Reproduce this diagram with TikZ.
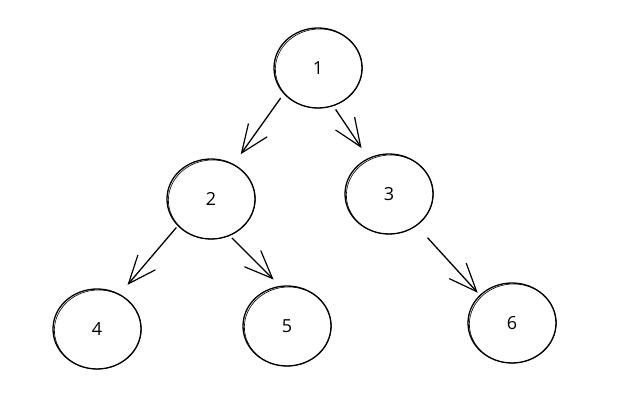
\documentclass[tikz,border=0pt]{standalone}
\usepackage{fontspec}
\setmainfont{Open Sans}
\usepackage{tikz}
\usetikzlibrary{arrows.meta,positioning,shapes.geometric}

\begin{document}
\begin{tikzpicture}[
    on grid,
    vertex/.style={ellipse, draw, line width=1.3pt, inner sep=0pt,
        minimum width=88pt, minimum height=80pt,
        font=\fontsize{18}{21}\selectfont},
    sketch/.style={line width=0.6pt},
    edge/.style={-{Straight Barb[length=28pt,width=23pt,line width=1.2pt]}, line width=1.3pt}
]
    \useasboundingbox (0pt,0pt) rectangle (619pt,-401pt);

    \node[vertex] (n1) at (318pt,-68pt) {1};
    \node[vertex, below left=131pt and 107pt of n1] (n2) {2};
    \node[vertex, below right=126pt and 71pt of n1] (n3) {3};
    \node[vertex, below left=130pt and 114pt of n2] (n4) {4};
    \node[vertex, below right=127pt and 76pt of n2] (n5) {5};
    \node[vertex, below right=129pt and 123pt of n3] (n6) {6};

    % second pencil stroke round each circle
    \foreach \n in {n1,n2,n3,n4,n5,n6}
        \draw[sketch, rotate around={5:(\n.center)}]
            ([shift={(0.8pt,-0.6pt)}]\n.center) ellipse [x radius=43.5pt, y radius=39.5pt];

    \draw[edge, shorten <=5pt, shorten >=12pt] (n1.217) -- (n2.57);
    \draw[edge, shorten <=4pt, shorten >=12pt] (n1.292) -- (n3.120);
    \draw[edge, shorten <=2pt, shorten >=12pt] (n2.219) -- (n4.57);
    \draw[edge, shorten <=3pt, shorten >=9pt] (n2.297) -- (n5.100);
    \draw[edge, shorten <=16pt, shorten >=3pt] (n3.311) -- (n6.139);
\end{tikzpicture}
\end{document}
